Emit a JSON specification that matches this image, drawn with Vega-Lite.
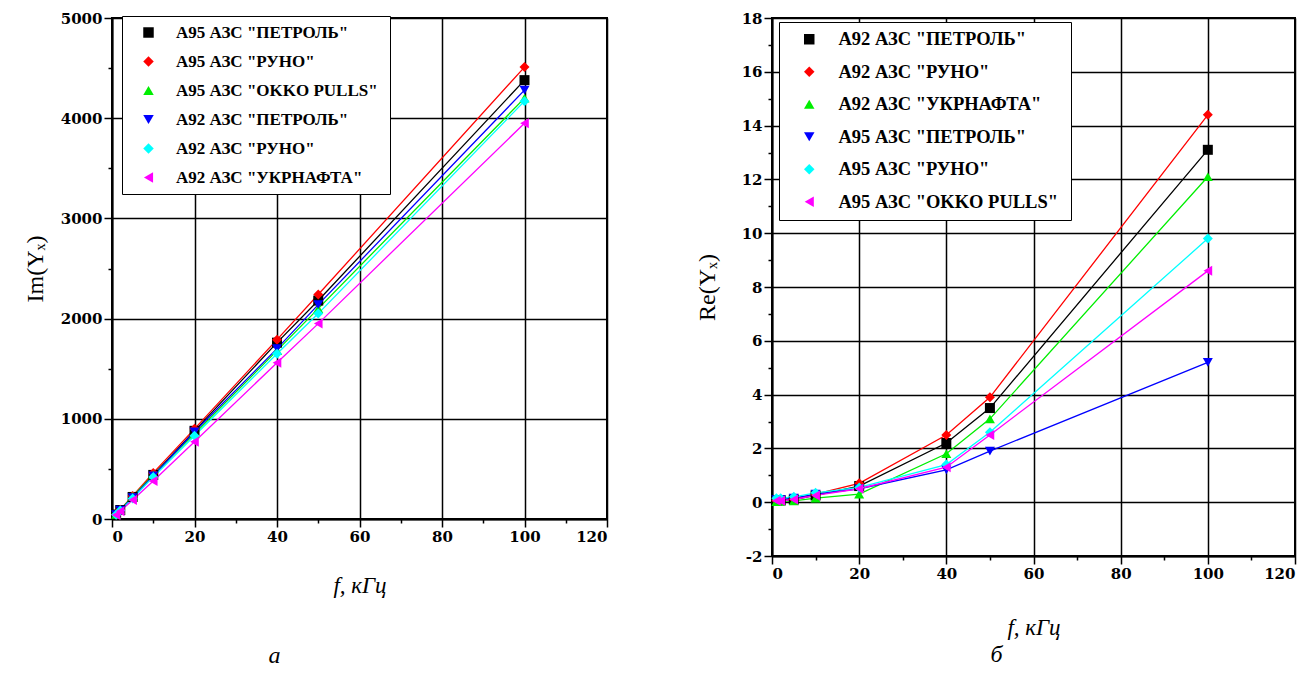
{
  "$schema": "https://vega.github.io/schema/vega-lite/v6.json",
  "background": "white",
  "padding": {"left": 22, "top": 10, "right": 5, "bottom": 5},
  "spacing": 85,
  "datasets": {
    "im": [
      {"s": "А95 АЗС \"ПЕТРОЛЬ\"", "f": 1, "v": 45}, {"s": "А95 АЗС \"ПЕТРОЛЬ\"", "f": 2, "v": 90}, {"s": "А95 АЗС \"ПЕТРОЛЬ\"", "f": 5, "v": 220}, {"s": "А95 АЗС \"ПЕТРОЛЬ\"", "f": 10, "v": 440}, {"s": "А95 АЗС \"ПЕТРОЛЬ\"", "f": 20, "v": 880}, {"s": "А95 АЗС \"ПЕТРОЛЬ\"", "f": 40, "v": 1760}, {"s": "А95 АЗС \"ПЕТРОЛЬ\"", "f": 50, "v": 2180}, {"s": "А95 АЗС \"ПЕТРОЛЬ\"", "f": 100, "v": 4380},
      {"s": "А95 АЗС \"РУНО\"", "f": 1, "v": 46}, {"s": "А95 АЗС \"РУНО\"", "f": 2, "v": 92}, {"s": "А95 АЗС \"РУНО\"", "f": 5, "v": 230}, {"s": "А95 АЗС \"РУНО\"", "f": 10, "v": 460}, {"s": "А95 АЗС \"РУНО\"", "f": 20, "v": 900}, {"s": "А95 АЗС \"РУНО\"", "f": 40, "v": 1790}, {"s": "А95 АЗС \"РУНО\"", "f": 50, "v": 2240}, {"s": "А95 АЗС \"РУНО\"", "f": 100, "v": 4510},
      {"s": "А95  АЗС \"OKKO PULLS\"", "f": 1, "v": 45}, {"s": "А95  АЗС \"OKKO PULLS\"", "f": 2, "v": 90}, {"s": "А95  АЗС \"OKKO PULLS\"", "f": 5, "v": 225}, {"s": "А95  АЗС \"OKKO PULLS\"", "f": 10, "v": 440}, {"s": "А95  АЗС \"OKKO PULLS\"", "f": 20, "v": 850}, {"s": "А95  АЗС \"OKKO PULLS\"", "f": 40, "v": 1680}, {"s": "А95  АЗС \"OKKO PULLS\"", "f": 50, "v": 2100}, {"s": "А95  АЗС \"OKKO PULLS\"", "f": 100, "v": 4200},
      {"s": "А92 АЗС \"ПЕТРОЛЬ\"", "f": 1, "v": 44}, {"s": "А92 АЗС \"ПЕТРОЛЬ\"", "f": 2, "v": 88}, {"s": "А92 АЗС \"ПЕТРОЛЬ\"", "f": 5, "v": 215}, {"s": "А92 АЗС \"ПЕТРОЛЬ\"", "f": 10, "v": 430}, {"s": "А92 АЗС \"ПЕТРОЛЬ\"", "f": 20, "v": 870}, {"s": "А92 АЗС \"ПЕТРОЛЬ\"", "f": 40, "v": 1700}, {"s": "А92 АЗС \"ПЕТРОЛЬ\"", "f": 50, "v": 2140}, {"s": "А92 АЗС \"ПЕТРОЛЬ\"", "f": 100, "v": 4280},
      {"s": "А92  АЗС \"РУНО\"", "f": 1, "v": 42}, {"s": "А92  АЗС \"РУНО\"", "f": 2, "v": 84}, {"s": "А92  АЗС \"РУНО\"", "f": 5, "v": 205}, {"s": "А92  АЗС \"РУНО\"", "f": 10, "v": 420}, {"s": "А92  АЗС \"РУНО\"", "f": 20, "v": 830}, {"s": "А92  АЗС \"РУНО\"", "f": 40, "v": 1650}, {"s": "А92  АЗС \"РУНО\"", "f": 50, "v": 2050}, {"s": "А92  АЗС \"РУНО\"", "f": 100, "v": 4170},
      {"s": "А92 АЗС \"УКРНАФТА\"", "f": 1, "v": 40}, {"s": "А92 АЗС \"УКРНАФТА\"", "f": 2, "v": 78}, {"s": "А92 АЗС \"УКРНАФТА\"", "f": 5, "v": 190}, {"s": "А92 АЗС \"УКРНАФТА\"", "f": 10, "v": 380}, {"s": "А92 АЗС \"УКРНАФТА\"", "f": 20, "v": 770}, {"s": "А92 АЗС \"УКРНАФТА\"", "f": 40, "v": 1560}, {"s": "А92 АЗС \"УКРНАФТА\"", "f": 50, "v": 1950}, {"s": "А92 АЗС \"УКРНАФТА\"", "f": 100, "v": 3950}
    ],
    "re": [
      {"s": "А92 АЗС \"ПЕТРОЛЬ\"", "f": 1, "v": 0.05}, {"s": "А92 АЗС \"ПЕТРОЛЬ\"", "f": 2, "v": 0.07}, {"s": "А92 АЗС \"ПЕТРОЛЬ\"", "f": 5, "v": 0.1}, {"s": "А92 АЗС \"ПЕТРОЛЬ\"", "f": 10, "v": 0.25}, {"s": "А92 АЗС \"ПЕТРОЛЬ\"", "f": 20, "v": 0.6}, {"s": "А92 АЗС \"ПЕТРОЛЬ\"", "f": 40, "v": 2.2}, {"s": "А92 АЗС \"ПЕТРОЛЬ\"", "f": 50, "v": 3.5}, {"s": "А92 АЗС \"ПЕТРОЛЬ\"", "f": 100, "v": 13.1},
      {"s": "А92 АЗС \"РУНО\"", "f": 1, "v": 0.06}, {"s": "А92 АЗС \"РУНО\"", "f": 2, "v": 0.08}, {"s": "А92 АЗС \"РУНО\"", "f": 5, "v": 0.12}, {"s": "А92 АЗС \"РУНО\"", "f": 10, "v": 0.3}, {"s": "А92 АЗС \"РУНО\"", "f": 20, "v": 0.7}, {"s": "А92 АЗС \"РУНО\"", "f": 40, "v": 2.5}, {"s": "А92 АЗС \"РУНО\"", "f": 50, "v": 3.9}, {"s": "А92 АЗС \"РУНО\"", "f": 100, "v": 14.4},
      {"s": "А92 АЗС \"УКРНАФТА\"", "f": 1, "v": 0.02}, {"s": "А92 АЗС \"УКРНАФТА\"", "f": 2, "v": 0.03}, {"s": "А92 АЗС \"УКРНАФТА\"", "f": 5, "v": 0.05}, {"s": "А92 АЗС \"УКРНАФТА\"", "f": 10, "v": 0.15}, {"s": "А92 АЗС \"УКРНАФТА\"", "f": 20, "v": 0.3}, {"s": "А92 АЗС \"УКРНАФТА\"", "f": 40, "v": 1.8}, {"s": "А92 АЗС \"УКРНАФТА\"", "f": 50, "v": 3.1}, {"s": "А92 АЗС \"УКРНАФТА\"", "f": 100, "v": 12.1},
      {"s": "А95 АЗС \"ПЕТРОЛЬ\"", "f": 1, "v": 0.1}, {"s": "А95 АЗС \"ПЕТРОЛЬ\"", "f": 2, "v": 0.1}, {"s": "А95 АЗС \"ПЕТРОЛЬ\"", "f": 5, "v": 0.15}, {"s": "А95 АЗС \"ПЕТРОЛЬ\"", "f": 10, "v": 0.3}, {"s": "А95 АЗС \"ПЕТРОЛЬ\"", "f": 20, "v": 0.5}, {"s": "А95 АЗС \"ПЕТРОЛЬ\"", "f": 40, "v": 1.2}, {"s": "А95 АЗС \"ПЕТРОЛЬ\"", "f": 50, "v": 1.9}, {"s": "А95 АЗС \"ПЕТРОЛЬ\"", "f": 100, "v": 5.2},
      {"s": "А95  АЗС \"РУНО\"", "f": 1, "v": 0.15}, {"s": "А95  АЗС \"РУНО\"", "f": 2, "v": 0.15}, {"s": "А95  АЗС \"РУНО\"", "f": 5, "v": 0.2}, {"s": "А95  АЗС \"РУНО\"", "f": 10, "v": 0.35}, {"s": "А95  АЗС \"РУНО\"", "f": 20, "v": 0.55}, {"s": "А95  АЗС \"РУНО\"", "f": 40, "v": 1.4}, {"s": "А95  АЗС \"РУНО\"", "f": 50, "v": 2.6}, {"s": "А95  АЗС \"РУНО\"", "f": 100, "v": 9.8},
      {"s": "А95  АЗС \"OKKO PULLS\"", "f": 1, "v": 0.05}, {"s": "А95  АЗС \"OKKO PULLS\"", "f": 2, "v": 0.05}, {"s": "А95  АЗС \"OKKO PULLS\"", "f": 5, "v": 0.1}, {"s": "А95  АЗС \"OKKO PULLS\"", "f": 10, "v": 0.25}, {"s": "А95  АЗС \"OKKO PULLS\"", "f": 20, "v": 0.5}, {"s": "А95  АЗС \"OKKO PULLS\"", "f": 40, "v": 1.3}, {"s": "А95  АЗС \"OKKO PULLS\"", "f": 50, "v": 2.5}, {"s": "А95  АЗС \"OKKO PULLS\"", "f": 100, "v": 8.6}
    ]
  },
  "config": {
    "font": "Liberation Serif",
    "view": {"stroke": "black", "strokeWidth": 2},
    "axis": {
      "domainColor": "black", "domainWidth": 2,
      "tickColor": "black", "tickWidth": 1.5,
      "gridColor": "black", "gridWidth": 1.5,
      "titleColor": "black", "titleFont": "Liberation Serif", "titleFontWeight": "normal"
    },
    "legend": {
      "strokeColor": "black", "fillColor": "white", "padding": 8,
      "labelFont": "Liberation Serif", "labelFontWeight": "bold", "labelColor": "black",
      "symbolSize": 110, "symbolStrokeWidth": 0, "title": null, "labelLimit": 400
    },
    "title": {"font": "Liberation Serif", "fontStyle": "italic", "fontWeight": "normal", "fontSize": 24, "color": "black", "orient": "bottom"}
  },
  "resolve": {"scale": {"color": "independent", "shape": "independent"}},
  "hconcat": [
    {
      "width": 495, "height": 501,
      "data": {"name": "im"},
      "title": {"text": "а", "orient": "bottom", "offset": 47, "dx": -85},
      "encoding": {
        "x": {"field": "f", "type": "quantitative", "scale": {"domain": [0, 120], "nice": false},
          "axis": {"title": "f, кГц", "titleFontSize": 23, "titleFontStyle": "italic", "titlePadding": 30,
            "labelFont": "DejaVu Serif", "labelFontSize": 15, "labelFontWeight": "bold", "labelColor": "black",
            "values": [0,10,20,30,40,50,60,70,80,90,100,110,120],
            "labelExpr": "datum.value % 20 === 0 ? datum.label : ''",
            "tickSize": {"condition": {"test": "datum.value % 20 === 0", "value": 8}, "value": 4},
            "gridOpacity": {"condition": {"test": "datum.value % 20 === 0", "value": 1}, "value": 0}}},
        "y": {"field": "v", "type": "quantitative", "scale": {"domain": [0, 5000], "nice": false},
          "axis": {"title": "Im(Yₓ)", "titleFontSize": 24, "titlePadding": 13,
            "labelFont": "DejaVu Serif", "labelFontSize": 15, "labelFontWeight": "bold", "labelColor": "black",
            "values": [0,500,1000,1500,2000,2500,3000,3500,4000,4500,5000],
            "labelExpr": "datum.value % 1000 === 0 ? datum.label : ''",
            "format": "d",
            "tickSize": {"condition": {"test": "datum.value % 1000 === 0", "value": 8}, "value": 4},
            "gridOpacity": {"condition": {"test": "datum.value % 1000 === 0", "value": 1}, "value": 0}}},
        "color": {"field": "s", "type": "nominal", "sort": null,
          "scale": {"domain": ["А95 АЗС \"ПЕТРОЛЬ\"", "А95 АЗС \"РУНО\"", "А95  АЗС \"OKKO PULLS\"", "А92 АЗС \"ПЕТРОЛЬ\"", "А92  АЗС \"РУНО\"", "А92 АЗС \"УКРНАФТА\""],
            "range": ["#000000", "#ff0000", "#00ee00", "#0000ff", "#00ffff", "#ff00ff"]},
          "legend": {"orient": "none", "legendX": 10, "legendY": -2, "labelFontSize": 17, "rowPadding": 11, "symbolOffset": 10, "labelOffset": 19}}
      },
      "layer": [
        {"mark": {"type": "line", "strokeWidth": 1.3}},
        {"mark": {"type": "point", "filled": true, "opacity": 1, "size": 100},
          "encoding": {"shape": {"field": "s", "type": "nominal",
            "scale": {"domain": ["А95 АЗС \"ПЕТРОЛЬ\"", "А95 АЗС \"РУНО\"", "А95  АЗС \"OKKO PULLS\"", "А92 АЗС \"ПЕТРОЛЬ\"", "А92  АЗС \"РУНО\"", "А92 АЗС \"УКРНАФТА\""],
              "range": ["square", "diamond", "triangle-up", "triangle-down", "diamond", "triangle-left"]},
            "legend": {"orient": "none", "legendX": 10, "legendY": -2, "labelFontSize": 17, "rowPadding": 11, "symbolOffset": 10, "labelOffset": 19}}}}
      ]
    },
    {
      "width": 523, "height": 538,
      "data": {"name": "re"},
      "title": {"text": "б", "orient": "bottom", "offset": 4, "dx": -37},
      "encoding": {
        "x": {"field": "f", "type": "quantitative", "scale": {"domain": [0, 120], "nice": false},
          "axis": {"title": "f, кГц", "titleFontSize": 23, "titleFontStyle": "italic", "titlePadding": 35,
            "labelFont": "DejaVu Serif", "labelFontSize": 15, "labelFontWeight": "bold", "labelColor": "black",
            "values": [0,10,20,30,40,50,60,70,80,90,100,110,120],
            "labelExpr": "datum.value % 20 === 0 ? datum.label : ''",
            "tickSize": {"condition": {"test": "datum.value % 20 === 0", "value": 8}, "value": 4},
            "gridOpacity": {"condition": {"test": "datum.value % 20 === 0", "value": 1}, "value": 0}}},
        "y": {"field": "v", "type": "quantitative", "scale": {"domain": [-2, 18], "nice": false},
          "axis": {"title": "Re(Yₓ)", "titleFontSize": 24, "titlePadding": 22,
            "labelFont": "DejaVu Serif", "labelFontSize": 15, "labelFontWeight": "bold", "labelColor": "black",
            "values": [-2,-1,0,1,2,3,4,5,6,7,8,9,10,11,12,13,14,15,16,17,18],
            "labelExpr": "datum.value % 2 === 0 ? '' + datum.value : ''",
            "tickSize": {"condition": {"test": "datum.value % 2 === 0", "value": 8}, "value": 4},
            "gridOpacity": {"condition": {"test": "datum.value % 2 === 0", "value": 1}, "value": 0}}},
        "color": {"field": "s", "type": "nominal", "sort": null,
          "scale": {"domain": ["А92 АЗС \"ПЕТРОЛЬ\"", "А92 АЗС \"РУНО\"", "А92 АЗС \"УКРНАФТА\"", "А95 АЗС \"ПЕТРОЛЬ\"", "А95  АЗС \"РУНО\"", "А95  АЗС \"OKKO PULLS\""],
            "range": ["#000000", "#ff0000", "#00ee00", "#0000ff", "#00ffff", "#ff00ff"]},
          "legend": {"orient": "none", "legendX": 7, "legendY": 4, "rowPadding": 13.5, "labelFontSize": 18.5, "symbolOffset": 13, "labelOffset": 20}}
      },
      "layer": [
        {"mark": {"type": "line", "strokeWidth": 1.3}},
        {"mark": {"type": "point", "filled": true, "opacity": 1, "size": 100},
          "encoding": {"shape": {"field": "s", "type": "nominal",
            "scale": {"domain": ["А92 АЗС \"ПЕТРОЛЬ\"", "А92 АЗС \"РУНО\"", "А92 АЗС \"УКРНАФТА\"", "А95 АЗС \"ПЕТРОЛЬ\"", "А95  АЗС \"РУНО\"", "А95  АЗС \"OKKO PULLS\""],
              "range": ["square", "diamond", "triangle-up", "triangle-down", "diamond", "triangle-left"]},
            "legend": {"orient": "none", "legendX": 7, "legendY": 4, "rowPadding": 13.5, "labelFontSize": 18.5, "symbolOffset": 13, "labelOffset": 20}}}}
      ]
    }
  ]
}
